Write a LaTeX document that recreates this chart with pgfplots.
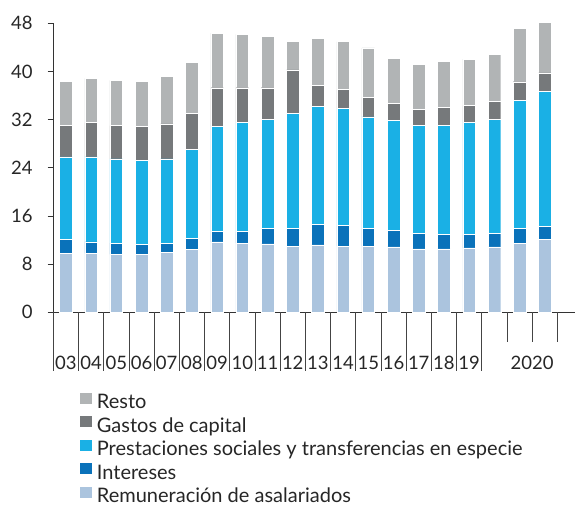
\documentclass[border=0pt]{standalone}
\usepackage{pgfplots}
\usepackage{pgfplotstable}
\pgfplotsset{compat=1.18}
\usepackage{fontspec}
\setmainfont{Lato}
\definecolor{cResto}{HTML}{B1B4B5}
\definecolor{cGas}{HTML}{76797B}
\definecolor{cPres}{HTML}{1AB0E5}
\definecolor{cInt}{HTML}{0A72BA}
\definecolor{cRem}{HTML}{ABC4DE}
\definecolor{axiscol}{HTML}{333333}
\definecolor{textcol}{HTML}{262626}
\definecolor{sepcol}{HTML}{444444}

\pgfplotstableread{
k rem int pres gas resto
0 9.80 2.27 13.73 5.30 7.27
1 9.80 1.88 14.12 5.70 7.37
2 9.63 1.87 13.97 5.53 7.54
3 9.63 1.67 13.95 5.59 7.53
4 9.97 1.53 13.97 5.81 7.92
5 10.47 1.77 14.84 6.02 8.37
6 11.68 1.72 17.44 6.46 9.05
7 11.50 1.90 18.10 5.80 8.88
8 11.35 2.55 18.16 5.24 8.55
9 11.00 2.90 19.20 7.15 4.71
10 11.18 3.44 19.54 3.49 7.81
11 11.00 3.40 19.43 3.17 7.96
12 11.00 2.90 18.55 3.25 8.20
13 10.85 2.75 18.30 2.76 7.54
14 10.52 2.55 17.99 2.61 7.47
15 10.52 2.38 18.16 2.94 7.70
16 10.69 2.21 18.66 2.77 7.70
17 10.85 2.22 19.03 2.90 7.90
18 11.50 2.40 21.30 3.10 8.90
19 12.07 2.23 22.35 3.11 8.34
}\datatable

\begin{document}
\begin{tikzpicture}
\useasboundingbox (0,0) rectangle (575pt,504pt);
\begin{axis}[
  at={(53.3pt,191.7pt)}, anchor=south west,
  scale only axis, width=521.7pt, height=289pt,
  xmin=-0.5, xmax=20.2, ymin=0, ymax=48,
  axis lines=left,
  axis line style={-, draw=axiscol, line width=0.8pt},
  ybar stacked, bar width=12.7pt,
  /pgf/number format/assume math mode=true,
  ytick={0,8,...,48},
  ytick align=outside, major tick length=5.6pt,
  ytick style={draw=axiscol, line width=0.8pt},
  xtick={0,1,...,16,18.5},
  xticklabels={03,04,05,06,07,08,09,10,11,12,13,14,15,16,17,18,19,2020},
  xtick style={draw=none},
  xticklabel style={anchor=base, inner sep=0pt, yshift=-54.4pt},
  yticklabel style={anchor=east, inner sep=0pt, xshift=-15pt},
  tick label style={font=\fontsize{18.5}{18.5}\selectfont, text=textcol},
  clip=false,
  reverse legend,
  legend cell align=left,
  legend style={at={(0.051,-0.2792)}, anchor=north west, draw=none, fill=none,
    inner sep=0pt, outer sep=0pt, font=\fontsize{20}{22}\selectfont, text=textcol,
    row sep=3.8pt, column sep=5.3pt,
    nodes={inner sep=0pt, text height=14pt, text depth=4pt}},
  legend image code/.code={\fill[#1, draw=none] (0pt,0pt) rectangle (11.7pt,10.7pt);},
]
\addplot[fill=cRem, draw=white, line width=0.4pt] table[x=k, y=rem] {\datatable};
\addplot[fill=cInt, draw=white, line width=0.4pt] table[x=k, y=int] {\datatable};
\addplot[fill=cPres, draw=white, line width=0.4pt] table[x=k, y=pres] {\datatable};
\addplot[fill=cGas, draw=white, line width=0.4pt] table[x=k, y=gas] {\datatable};
\addplot[fill=cResto, draw=white, line width=0.4pt] table[x=k, y=resto] {\datatable};
\legend{Remuneración de asalariados, Intereses, Prestaciones sociales y transferencias en especie, Gastos de capital, Resto}
\pgfplotsinvokeforeach{-0.5,0.5,...,16.5}{
  \draw[sepcol, line width=0.8pt] (axis cs:#1,0) -- ++(0pt,-58.7pt);
}
\pgfplotsinvokeforeach{17.5,18.5,19.5}{
  \draw[sepcol, line width=0.8pt] (axis cs:#1,0) -- ++(0pt,-29.4pt);
}
\end{axis}
\end{tikzpicture}
\end{document}
